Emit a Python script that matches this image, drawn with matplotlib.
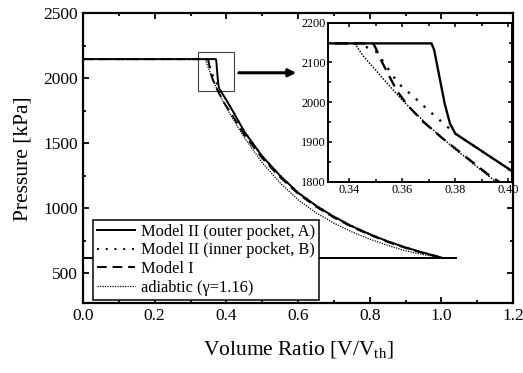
import matplotlib
matplotlib.use("Agg")
import matplotlib.pyplot as plt
from matplotlib.patches import Rectangle
from matplotlib.ticker import MultipleLocator

plt.rcParams['font.family'] = ['Liberation Serif', 'DejaVu Serif']
plt.rcParams['mathtext.fontset'] = 'custom'
plt.rcParams['mathtext.rm'] = 'Liberation Serif'
plt.rcParams['mathtext.it'] = 'Liberation Serif:italic'

# Model II, outer pocket A (solid)
v_outer = [0.0, 0.371, 0.372, 0.374, 0.376, 0.378, 0.380, 0.39, 0.40, 0.42, 0.45,
           0.50, 0.55, 0.60, 0.65, 0.70, 0.75, 0.80, 0.85, 0.90, 0.95, 1.00]
p_outer = [2148, 2148, 2132, 2064, 1996, 1946, 1921, 1877, 1833, 1738, 1590,
           1400, 1250, 1120, 1020, 935, 862, 800, 745, 698, 657, 620]

# Model II, inner pocket B (dotted)
v_inner = [0.0, 0.343, 0.346, 0.350, 0.354, 0.3585, 0.3642, 0.3698, 0.3755, 0.380,
           0.39, 0.40, 0.42, 0.45, 0.50, 0.55, 0.60, 0.65, 0.70, 0.75, 0.80,
           0.85, 0.90, 0.95, 1.00]
p_inner = [2148, 2148, 2140, 2128, 2090, 2047, 2014, 1980, 1947, 1921,
           1877, 1833, 1738, 1590, 1400, 1250, 1120, 1020, 935, 862, 800,
           745, 698, 657, 620]

# Model I (dashed)
v_m1 = [0.0, 0.349, 0.350, 0.352, 0.355, 0.358, 0.362, 0.368, 0.375, 0.385, 0.393,
        0.42, 0.45, 0.50, 0.55, 0.60, 0.65, 0.70, 0.75, 0.80, 0.85, 0.90, 0.95, 1.00]
p_m1 = [2148, 2148, 2135, 2105, 2066, 2028, 1992, 1950, 1910, 1857, 1815,
        1700, 1565, 1385, 1238, 1112, 1012, 928, 856, 795, 740, 694, 654, 620]

# adiabatic (gamma = 1.16), fine dots
v_adi = [0.342, 0.345, 0.350, 0.355, 0.360, 0.365, 0.370, 0.375, 0.380, 0.385, 0.390,
         0.40, 0.42, 0.45, 0.50, 0.55, 0.60, 0.65, 0.70, 0.75, 0.80, 0.85, 0.90,
         0.95, 1.00]
p_adi = [2148, 2118, 2080, 2042, 2005, 1972, 1940, 1910, 1882, 1855, 1828,
         1775, 1680, 1545, 1350, 1195, 1065, 965, 885, 818, 762, 714, 672,
         642, 620]

# low-pressure line of the cycle
v_low = [0.0, 1.04]
p_low = [620, 620]

labels = ['Model II (outer pocket, A)', 'Model II (inner pocket, B)',
          'Model I', 'adiabtic (\u03b3=1.16)']


def draw_curves(ax, lw_scale=1.0):
    h1, = ax.plot(v_outer, p_outer, color='k', lw=1.4 * lw_scale, ls='-')
    h2, = ax.plot(v_inner, p_inner, color='k', lw=1.4 * lw_scale, ls=(0, (1, 3.5)))
    h3, = ax.plot(v_m1, p_m1, color='k', lw=1.4 * lw_scale, ls=(0, (5, 3)))
    h4, = ax.plot(v_adi, p_adi, color='k', lw=0.9 * lw_scale, ls=(0, (1, 1)))
    return [h1, h2, h3, h4]


def style_axes(ax, size, lw):
    for s in ax.spines.values():
        s.set_linewidth(lw)
    ax.tick_params(which='both', direction='in', top=True, right=True,
                   labelsize=size, width=lw * 0.8)
    ax.tick_params(which='major', length=4)
    ax.tick_params(which='minor', length=2.5)


fig = plt.figure(figsize=(5.23, 3.73), dpi=100)
ax = fig.add_axes([0.1587, 0.1877, 0.8223, 0.7763])

handles = draw_curves(ax)
ax.plot(v_low, p_low, color='k', lw=1.4)

ax.set_xlim(0.0, 1.2)
ax.set_ylim(270, 2500)
ax.xaxis.set_major_locator(MultipleLocator(0.2))
ax.xaxis.set_minor_locator(MultipleLocator(0.1))
ax.yaxis.set_major_locator(MultipleLocator(500))
ax.yaxis.set_minor_locator(MultipleLocator(250))
ax.set_yticks([500, 1000, 1500, 2000, 2500])
ax.set_xticks([0.0, 0.2, 0.4, 0.6, 0.8, 1.0, 1.2])
ax.set_xticklabels(['0.0', '0.2', '0.4', '0.6', '0.8', '1.0', '1.2'])
style_axes(ax, 12.5, 1.6)

ax.set_xlabel(r'Volume Ratio [V/V$_{\mathrm{th}}$]', fontsize=15.5, labelpad=11)
ax.set_ylabel('Pressure [kPa]', fontsize=15.5, labelpad=8)

# zoom box and arrow
ax.add_patch(Rectangle((0.322, 1900), 0.098, 305, fill=False, lw=0.8,
                       edgecolor='0.25'))
ax.annotate('', xy=(0.595, 2043), xytext=(0.435, 2043),
            arrowprops=dict(arrowstyle='-|>', lw=2.2, color='k',
                            mutation_scale=11, shrinkA=0, shrinkB=0))

leg = ax.legend(handles, labels, loc='lower left', bbox_to_anchor=(0.023, 0.01),
                borderaxespad=0, fontsize=11.8, frameon=True, fancybox=False,
                handlelength=2.3, handletextpad=0.4, labelspacing=0.17,
                borderpad=0.25)
leg.get_frame().set_edgecolor('k')
leg.get_frame().set_linewidth(1.1)
leg.get_frame().set_alpha(1)

# inset
axin = fig.add_axes([0.6277, 0.5129, 0.3506, 0.4262])
draw_curves(axin, lw_scale=1.2)
axin.set_xlim(0.332, 0.4013)
axin.set_ylim(1800, 2200)
axin.xaxis.set_major_locator(MultipleLocator(0.02))
axin.xaxis.set_minor_locator(MultipleLocator(0.01))
axin.yaxis.set_major_locator(MultipleLocator(100))
axin.yaxis.set_minor_locator(MultipleLocator(50))
axin.set_xticks([0.34, 0.36, 0.38, 0.40])
axin.set_xticklabels(['0.34', '0.36', '0.38', '0.40'])
style_axes(axin, 8.8, 1.4)
axin.tick_params(which='major', length=3, pad=2)
axin.tick_params(which='minor', length=2)

fig.savefig('out.png', dpi=100)
